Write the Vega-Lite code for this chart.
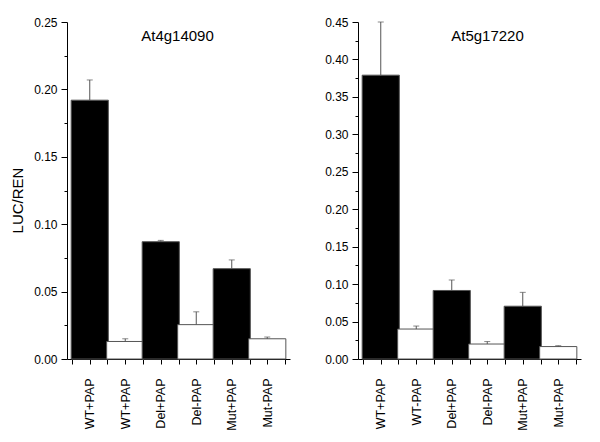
{
  "$schema": "https://vega.github.io/schema/vega-lite/v6.json",
  "padding": {"left": 10, "top": 16, "right": 5, "bottom": 5},
  "background": "white",
  "spacing": 32,
  "config": {
    "view": {"stroke": null},
    "font": "Liberation Sans",
    "axis": {
      "grid": false,
      "domain": true,
      "ticks": true,
      "domainColor": "black",
      "domainWidth": 1,
      "tickColor": "black",
      "tickWidth": 1,
      "labelColor": "black",
      "titleColor": "black",
      "labelFont": "Liberation Sans",
      "titleFont": "Liberation Sans",
      "titleFontWeight": "normal",
      "labelOverlap": false,
      "tickCount": 100,
      "zindex": 1
    }
  },
  "datasets": {
    "left": [
      {"n": 1, "sample": "WT+PAP", "pap": "+", "value": 0.192, "upper": 0.207},
      {"n": 2, "sample": "WT+PAP", "pap": "-", "value": 0.013, "upper": 0.015},
      {"n": 3, "sample": "Del+PAP", "pap": "+", "value": 0.087, "upper": 0.088},
      {"n": 4, "sample": "Del-PAP", "pap": "-", "value": 0.0255, "upper": 0.035},
      {"n": 5, "sample": "Mut+PAP", "pap": "+", "value": 0.067, "upper": 0.0735},
      {"n": 6, "sample": "Mut-PAP", "pap": "-", "value": 0.015, "upper": 0.0163}
    ],
    "right": [
      {"n": 1, "sample": "WT+PAP", "pap": "+", "value": 0.379, "upper": 0.45},
      {"n": 2, "sample": "WT-PAP", "pap": "-", "value": 0.04, "upper": 0.044},
      {"n": 3, "sample": "Del+PAP", "pap": "+", "value": 0.0915, "upper": 0.1055},
      {"n": 4, "sample": "Del-PAP", "pap": "-", "value": 0.02, "upper": 0.0233},
      {"n": 5, "sample": "Mut+PAP", "pap": "+", "value": 0.0705, "upper": 0.089},
      {"n": 6, "sample": "Mut-PAP", "pap": "-", "value": 0.0166, "upper": 0.0178}
    ]
  },
  "hconcat": [
    {
      "width": 223,
      "height": 337,
      "data": {"name": "left"},
      "title": {"text": "At4g14090", "fontSize": 15, "fontWeight": "normal", "font": "Liberation Sans", "anchor": "middle", "baseline": "top", "offset": -28, "dx": -1, "color": "black"},
      "layer": [
        {
          "mark": {"type": "bar", "stroke": "#555", "strokeWidth": 1, "width": 37.17},
          "encoding": {
            "x": {"field": "n", "type": "quantitative", "scale": {"domain": [0.5, 6.5], "nice": false, "zero": false},
              "axis": {"title": null, "labelAngle": -90, "labelAlign": "right", "labelBaseline": "middle", "labelFontSize": 12.5, "tickSize": 5, "labelPadding": 14, "tickCount": 100,
                "values": [0.5, 1, 1.5, 2, 2.5, 3, 3.5, 4, 4.5, 5, 5.5, 6, 6.5],
                "labelExpr": "datum.value % 1 == 0 ? ['WT+PAP','WT+PAP','Del+PAP','Del-PAP','Mut+PAP','Mut-PAP'][datum.value-1] : ''"}},
            "y": {"field": "value", "type": "quantitative", "scale": {"domain": [0, 0.25], "nice": false},
              "axis": {"title": "LUC/REN", "titleFontSize": 15, "titlePadding": 8, "titleY": 178, "labelFontSize": 12, "labelPadding": 4, "tickCount": 100,
                "values": [0, 0.025, 0.05, 0.075, 0.1, 0.125, 0.15, 0.175, 0.2, 0.225, 0.25],
                "labelExpr": "round(datum.value*1000) % 50 == 0 ? format(datum.value, '.2f') : ''",
                "tickSize": {"condition": {"test": "round(datum.value*1000) % 50 == 0", "value": 6}, "value": 3}}},
            "fill": {"field": "pap", "type": "nominal", "scale": {"domain": ["+", "-"], "range": ["black", "white"]}, "legend": null}
          }
        },
        {
          "mark": {"type": "rule", "color": "#555", "strokeWidth": 1},
          "encoding": {
            "x": {"field": "n", "type": "quantitative"},
            "y": {"field": "value", "type": "quantitative"},
            "y2": {"field": "upper"}
          }
        },
        {
          "mark": {"type": "tick", "color": "#555", "size": 6, "thickness": 1, "orient": "horizontal"},
          "encoding": {
            "x": {"field": "n", "type": "quantitative"},
            "y": {"field": "upper", "type": "quantitative"}
          }
        }
      ]
    },
    {
      "width": 223,
      "height": 337,
      "data": {"name": "right"},
      "title": {"text": "At5g17220", "fontSize": 15, "fontWeight": "normal", "font": "Liberation Sans", "anchor": "middle", "baseline": "top", "offset": -28, "dx": 18, "color": "black"},
      "layer": [
        {
          "mark": {"type": "bar", "stroke": "#555", "strokeWidth": 1, "width": 37.17},
          "encoding": {
            "x": {"field": "n", "type": "quantitative", "scale": {"domain": [0.5, 6.5], "nice": false, "zero": false},
              "axis": {"title": null, "labelAngle": -90, "labelAlign": "right", "labelBaseline": "middle", "labelFontSize": 12.5, "tickSize": 5, "labelPadding": 14, "tickCount": 100,
                "values": [0.5, 1, 1.5, 2, 2.5, 3, 3.5, 4, 4.5, 5, 5.5, 6, 6.5],
                "labelExpr": "datum.value % 1 == 0 ? ['WT+PAP','WT-PAP','Del+PAP','Del-PAP','Mut+PAP','Mut-PAP'][datum.value-1] : ''"}},
            "y": {"field": "value", "type": "quantitative", "scale": {"domain": [0, 0.45], "nice": false},
              "axis": {"title": null, "labelFontSize": 12, "labelPadding": 4, "tickCount": 100,
                "values": [0, 0.025, 0.05, 0.075, 0.1, 0.125, 0.15, 0.175, 0.2, 0.225, 0.25, 0.275, 0.3, 0.325, 0.35, 0.375, 0.4, 0.425, 0.45],
                "labelExpr": "round(datum.value*1000) % 50 == 0 ? format(datum.value, '.2f') : ''",
                "tickSize": {"condition": {"test": "round(datum.value*1000) % 50 == 0", "value": 6}, "value": 3}}},
            "fill": {"field": "pap", "type": "nominal", "scale": {"domain": ["+", "-"], "range": ["black", "white"]}, "legend": null}
          }
        },
        {
          "mark": {"type": "rule", "color": "#555", "strokeWidth": 1},
          "encoding": {
            "x": {"field": "n", "type": "quantitative"},
            "y": {"field": "value", "type": "quantitative"},
            "y2": {"field": "upper"}
          }
        },
        {
          "mark": {"type": "tick", "color": "#555", "size": 6, "thickness": 1, "orient": "horizontal"},
          "encoding": {
            "x": {"field": "n", "type": "quantitative"},
            "y": {"field": "upper", "type": "quantitative"}
          }
        }
      ]
    }
  ]
}
